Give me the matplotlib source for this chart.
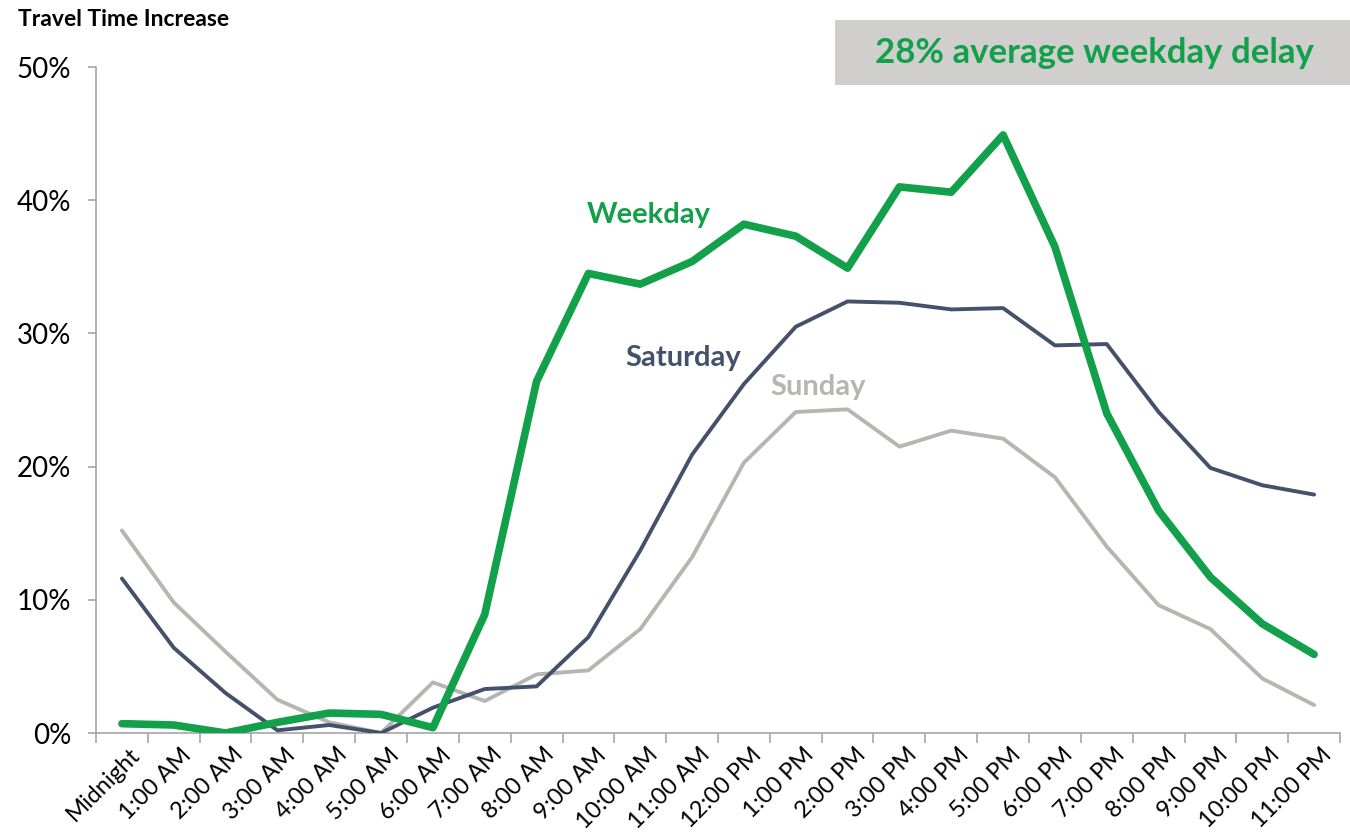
import matplotlib
matplotlib.use("Agg")
import matplotlib.pyplot as plt
from matplotlib.ticker import FuncFormatter, FixedLocator
from matplotlib.patches import Rectangle

hours = ["Midnight", "1:00 AM", "2:00 AM", "3:00 AM", "4:00 AM", "5:00 AM",
         "6:00 AM", "7:00 AM", "8:00 AM", "9:00 AM", "10:00 AM", "11:00 AM",
         "12:00 PM", "1:00 PM", "2:00 PM", "3:00 PM", "4:00 PM", "5:00 PM",
         "6:00 PM", "7:00 PM", "8:00 PM", "9:00 PM", "10:00 PM", "11:00 PM"]

weekday = [0.7, 0.6, 0.0, 0.8, 1.5, 1.4, 0.4, 8.9, 26.4, 34.5, 33.7, 35.4,
           38.2, 37.3, 34.9, 41.0, 40.6, 44.9, 36.5, 24.0, 16.7, 11.7, 8.2, 5.9]
saturday = [11.6, 6.4, 3.0, 0.2, 0.6, 0.0, 1.9, 3.3, 3.5, 7.2, 13.7, 20.9,
            26.2, 30.5, 32.4, 32.3, 31.8, 31.9, 29.1, 29.2, 24.1, 19.9, 18.6, 17.9]
sunday = [15.2, 9.8, 6.1, 2.5, 0.8, 0.0, 3.8, 2.4, 4.4, 4.7, 7.8, 13.2,
          20.3, 24.1, 24.3, 21.5, 22.7, 22.1, 19.2, 14.0, 9.6, 7.8, 4.1, 2.1]

GREEN = "#13A04A"
NAVY = "#44516A"
GREY = "#B5B5B1"
AXC = "#A6A6A6"

plt.rcParams['font.family'] = ['Lato', 'DejaVu Sans']

fig = plt.figure(figsize=(13.5, 8.38), dpi=100)
ax = fig.add_axes([96/1350, 105/838, 1244/1350, 666/838])

x = list(range(len(hours)))
ax.plot(x, sunday, color=GREY, lw=2.8, solid_joinstyle='round', solid_capstyle='round', zorder=2)
ax.plot(x, saturday, color=NAVY, lw=2.8, solid_joinstyle='round', solid_capstyle='round', zorder=3)
ax.plot(x, weekday, color=GREEN, lw=5.5, solid_joinstyle='round', solid_capstyle='round', zorder=4)

ax.set_xlim(-0.5, len(hours) - 0.5)
ax.set_ylim(0, 50)

for s in ['top', 'right']:
    ax.spines[s].set_visible(False)
for s in ['left', 'bottom']:
    ax.spines[s].set_color(AXC)
    ax.spines[s].set_linewidth(1.2)

ax.set_yticks([0, 10, 20, 30, 40, 50])
ax.yaxis.set_major_formatter(FuncFormatter(lambda v, p: f"{int(v)}%"))
ax.tick_params(axis='y', direction='out', length=6, width=1.2, color=AXC,
               labelsize=20, pad=12, labelcolor='black')

ax.set_xticks(x)
ax.set_xticklabels(hours, rotation=45, ha='right', va='top', rotation_mode='anchor')
ax.xaxis.set_minor_locator(FixedLocator([i - 0.5 for i in range(len(hours) + 1)]))
ax.tick_params(axis='x', which='major', length=0, labelsize=17, pad=8)
ax.tick_params(axis='x', which='minor', direction='out', length=7, width=1.2, color=AXC)
for lbl in ax.get_xticklabels():
    lbl.set_transform(lbl.get_transform() + matplotlib.transforms.ScaledTranslation(7/100, 0, fig.dpi_scale_trans))

fig.text(18/1350, 1 - 19/838, "Travel Time Increase", fontsize=16.5, fontweight='bold',
         ha='left', va='center', color='black')

fig.patches.append(Rectangle((835/1350, 1 - 85/838), 515/1350, 65/838,
                             transform=fig.transFigure, facecolor="#D0CFCD",
                             edgecolor='none', zorder=0))
fig.text(1094/1350, 1 - 53/838, "28% average weekday delay", fontsize=25,
         fontweight='bold', color=GREEN, ha='center', va='center')

ax.text(10.17, 38.9, "Weekday", fontsize=21, fontweight='bold', color=GREEN, ha='center', va='center')
ax.text(10.83, 28.15, "Saturday", fontsize=21, fontweight='bold', color=NAVY, ha='center', va='center')
ax.text(13.43, 26.0, "Sunday", fontsize=21, fontweight='bold', color=GREY, ha='center', va='center')

fig.savefig("out.png", dpi=100)
